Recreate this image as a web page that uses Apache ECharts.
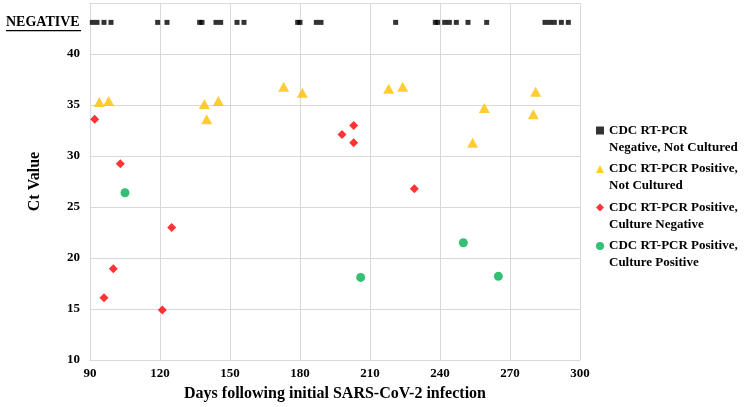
<!DOCTYPE html>
<html>
<head>
<meta charset="utf-8">
<script src="https://cdn.jsdelivr.net/npm/echarts@6/dist/echarts.min.js"></script>
<style>
html,body{margin:0;padding:0;background:#fff;}
#chart{width:746px;height:407px;}
</style>
</head>
<body>
<div id="chart"></div>
<script>
// ---- data ----
const seriesNames = [
  'CDC RT-PCR\nNegative, Not Cultured',
  'CDC RT-PCR Positive,\nNot Cultured',
  'CDC RT-PCR Positive,\nCulture Negative',
  'CDC RT-PCR Positive,\nCulture Positive'
];
const negativeDays = [91, 93, 96, 99, 119, 123, 137, 138, 144, 146, 153, 156, 179, 180, 187, 189, 221, 238, 239, 242, 244, 247, 252, 260, 285, 287, 289, 292, 295];
const negativeRowValue = 43.1;
const notCulturedDays = [94, 98, 139, 140, 145, 173, 181, 218, 224, 254, 259, 280, 281];
const notCulturedCt   = [35.3, 35.4, 35.1, 33.6, 35.4, 36.8, 36.2, 36.6, 36.8, 31.3, 34.7, 34.1, 36.3];
const cultureNegDays  = [92, 96, 100, 103, 121, 125, 198, 203, 203, 229];
const cultureNegCt    = [33.6, 16.1, 18.95, 29.25, 14.9, 23.0, 32.1, 33.0, 31.3, 26.8];
const culturePosDays  = [105, 206, 250, 265];
const culturePosCt    = [26.4, 18.1, 21.5, 18.2];
const xTickMin = 90, xTickMax = 300, xTickStep = 30;
const yTickMin = 10, yTickMax = 45, yTickStep = 5;
const negativeLabel = 'NEGATIVE';

const pair = (xs, ys) => xs.map((x, i) => [x, ys[i]]);
const font = '"Liberation Serif", "Times New Roman", serif';
const grid = '#d9d9d9';

const chart = echarts.init(document.getElementById('chart'), null, {renderer: 'canvas'});
chart.setOption({
  animation: false,
  backgroundColor: '#fff',
  grid: {left: 90, right: 166, top: 3, bottom: 47},
  xAxis: {
    type: 'value', min: xTickMin, max: xTickMax, interval: xTickStep,
    name: 'Days following initial SARS-CoV-2 infection',
    nameLocation: 'middle', nameGap: 26,
    nameTextStyle: {fontFamily: font, fontWeight: 'bold', fontSize: 16, color: '#000'},
    axisLine: {show: true, lineStyle: {color: grid}},
    axisTick: {show: false},
    axisLabel: {fontFamily: font, fontWeight: 'bold', fontSize: 13, color: '#000', margin: 7},
    splitLine: {show: true, lineStyle: {color: grid}}
  },
  yAxis: {
    type: 'value', min: yTickMin, max: yTickMax, interval: yTickStep,
    name: 'Ct Value', nameLocation: 'middle', nameGap: 47, nameRotate: 90,
    nameTextStyle: {fontFamily: font, fontWeight: 'bold', fontSize: 16, color: '#000'},
    axisLine: {show: true, lineStyle: {color: grid}},
    axisTick: {show: false},
    axisLabel: {fontFamily: font, fontWeight: 'bold', fontSize: 13, color: '#000', margin: 10,
      formatter: v => (v === yTickMax ? '' : String(v))},
    splitLine: {show: true, lineStyle: {color: grid}}
  },
  legend: {
    orient: 'vertical', left: 591, top: 100,
    itemWidth: 8, itemHeight: 8, itemGap: -12.5,
    formatter: name => '\n' + name,
    textStyle: {fontFamily: font, fontWeight: 'bold', fontSize: 13, color: '#000', lineHeight: 17},
    data: seriesNames
  },
  series: [
    {name: seriesNames[0], type: 'scatter', symbol: 'rect', symbolSize: [5, 5],
      itemStyle: {color: '#000'}, data: negativeDays.map(d => [d, negativeRowValue])},
    {name: seriesNames[1], type: 'scatter', symbol: 'triangle', symbolSize: [11, 10],
      itemStyle: {color: '#FFC000'}, data: pair(notCulturedDays, notCulturedCt)},
    {name: seriesNames[2], type: 'scatter', symbol: 'diamond', symbolSize: 9,
      itemStyle: {color: '#FF0000'}, data: pair(cultureNegDays, cultureNegCt)},
    {name: seriesNames[3], type: 'scatter', symbol: 'circle', symbolSize: 9,
      itemStyle: {color: '#00B050'}, data: pair(culturePosDays, culturePosCt)}
  ],
  graphic: [
    {type: 'text', left: 6, top: 15, style: {text: negativeLabel, font: 'bold 14px ' + font, fill: '#000'}},
    {type: 'rect', shape: {x: 6, y: 30, width: 75, height: 1.2}, style: {fill: '#000'}}
  ]
});
</script>
</body>
</html>
